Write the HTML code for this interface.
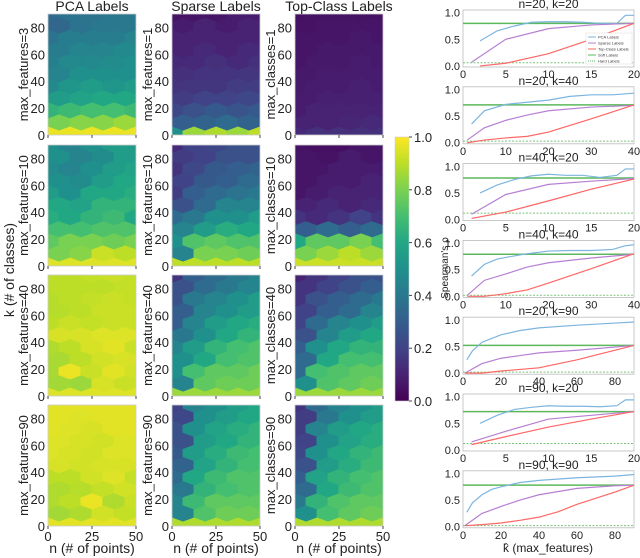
<!DOCTYPE html>
<html><head><meta charset="utf-8"><style>
body{margin:0;background:#fff;}
svg{display:block;font-family:"Liberation Sans","DejaVu Sans",sans-serif;}
</style></head><body>
<svg id="fig" width="640" height="558" viewBox="0 0 640 558"></svg>
<script>
// ---------- heatmap data (rows: y=90 down to y=0, 5 columns each) ----------
const colTitles = ["PCA Labels","Sparse Labels","Top-Class Labels"];
const rowLabels = [["max_features=3","max_features=1","max_classes=1"],
                   ["max_features=10","max_features=10","max_classes=10"],
                   ["max_features=40","max_features=40","max_classes=40"],
                   ["max_features=90","max_features=90","max_classes=90"]];
const hmPCA1 = [[.35,.38,.38,.4,.4],[.33,.38,.4,.4,.42],[.38,.42,.42,.42,.45],[.42,.45,.45,.47,.45],[.43,.47,.47,.48,.5],[.45,.5,.5,.5,.5],[.47,.52,.55,.52,.55],[.55,.58,.6,.6,.6],[.65,.68,.7,.7,.68],[.8,.82,.82,.85,.82],[.97,.97,.97,.97,.97]];
const hmSparse1 = [[.05,.06,.06,.08,.08],[.08,.1,.08,.1,.1],[.1,.1,.1,.1,.1],[.1,.12,.1,.12,.12],[.12,.12,.14,.12,.14],[.14,.15,.15,.16,.15],[.15,.16,.16,.18,.18],[.18,.2,.2,.22,.2],[.22,.25,.28,.26,.28],[.3,.32,.35,.32,.35],[.5,.85,.88,.85,.9]];
const hmTop1 = [[.04,.05,.05,.05,.05],[.05,.06,.06,.06,.06],[.06,.06,.06,.07,.06],[.06,.07,.07,.07,.07],[.06,.07,.07,.08,.07],[.07,.08,.08,.08,.08],[.07,.08,.08,.09,.08],[.08,.09,.09,.09,.1],[.08,.1,.1,.1,.1],[.1,.1,.11,.12,.1],[.12,.14,.14,.14,.14]];
const hmPCA2 = [[.5,.45,.5,.55,.55],[.5,.45,.48,.55,.58],[.48,.45,.5,.55,.58],[.5,.48,.55,.6,.6],[.55,.5,.6,.6,.62],[.6,.58,.65,.65,.62],[.62,.6,.65,.68,.6],[.7,.7,.72,.72,.68],[.75,.8,.8,.78,.8],[.8,.82,.92,.9,.92],[.95,.95,.95,.95,.95]];
const hmSparse2 = [[.12,.2,.22,.25,.25],[.18,.2,.25,.25,.3],[.15,.22,.28,.3,.32],[.2,.28,.3,.35,.35],[.18,.3,.35,.38,.4],[.25,.35,.45,.45,.48],[.35,.4,.5,.5,.55],[.45,.55,.62,.6,.65],[.5,.72,.75,.72,.72],[.45,.8,.8,.78,.8],[.9,.9,.9,.9,.9]];
const hmTop2 = [[.05,.04,.04,.06,.06],[.06,.05,.08,.06,.08],[.06,.06,.08,.08,.08],[.06,.08,.08,.1,.1],[.06,.08,.1,.1,.1],[.1,.12,.1,.12,.15],[.15,.12,.15,.2,.15],[.3,.35,.3,.35,.35],[.6,.75,.75,.8,.7],[.8,.85,.9,.85,.85],[.92,.92,.92,.92,.92]];
const hmPCA3 = [[.9,.9,.91,.92,.91],[.9,.9,.9,.91,.91],[.89,.9,.91,.92,.91],[.89,.9,.92,.92,.9],[.9,.92,.91,.92,.92],[.94,.94,.95,.95,.94],[.88,.9,.94,.96,.92],[.87,.9,.93,.94,.9],[.87,.97,.92,.96,.93],[.86,.85,.94,.92,.94],[.95,.95,.95,.95,.95]];
const hmSparse3 = [[.15,.3,.35,.4,.45],[.25,.35,.4,.45,.5],[.25,.4,.45,.5,.55],[.3,.45,.5,.55,.6],[.3,.45,.55,.6,.62],[.4,.5,.6,.65,.68],[.45,.55,.65,.7,.72],[.5,.6,.7,.72,.75],[.5,.7,.75,.75,.78],[.45,.75,.78,.78,.8],[.85,.85,.85,.85,.85]];
const hmTop3 = [[.1,.15,.2,.25,.25],[.15,.2,.25,.3,.3],[.15,.25,.3,.35,.4],[.2,.3,.35,.45,.45],[.2,.35,.45,.5,.55],[.25,.45,.55,.6,.6],[.3,.5,.6,.65,.65],[.35,.6,.7,.7,.7],[.35,.7,.72,.75,.75],[.5,.72,.75,.78,.78],[.85,.85,.85,.85,.85]];
const hmPCA4 = [[.96,.96,.96,.96,.96],[.96,.95,.96,.96,.96],[.96,.95,.94,.96,.96],[.95,.94,.93,.95,.96],[.95,.94,.93,.95,.95],[.94,.93,.94,.94,.95],[.9,.9,.93,.95,.91],[.88,.89,.91,.93,.9],[.88,.9,.97,.88,.92],[.86,.88,.93,.91,.93],[.96,.96,.96,.96,.96]];
const hmSparse4 = [[.2,.45,.5,.55,.6],[.22,.5,.55,.6,.65],[.25,.5,.58,.62,.65],[.25,.55,.6,.65,.68],[.28,.55,.62,.68,.7],[.32,.58,.65,.7,.72],[.35,.6,.68,.72,.72],[.4,.65,.7,.72,.75],[.45,.68,.75,.75,.75],[.45,.72,.78,.78,.78],[.88,.88,.88,.88,.88]];
const hmTop4 = [[.15,.35,.45,.5,.55],[.18,.4,.5,.55,.6],[.18,.45,.55,.6,.62],[.2,.5,.58,.62,.65],[.22,.5,.6,.65,.68],[.25,.55,.62,.68,.7],[.3,.58,.65,.7,.72],[.35,.6,.68,.72,.72],[.4,.65,.72,.75,.75],[.5,.7,.75,.78,.78],[.88,.88,.88,.88,.88]];
const heatmaps = [[hmPCA1,hmSparse1,hmTop1],[hmPCA2,hmSparse2,hmTop2],[hmPCA3,hmSparse3,hmTop3],[hmPCA4,hmSparse4,hmTop4]];
const hmYTicks = [0,20,40,60,80];
const hmXTicks = [0,25,50];
const cbTicks = [0.0,0.2,0.4,0.6,0.8,1.0];

// ---------- line chart data ----------
const panelTitles = ["n=20, k=20","n=20, k=40","n=40, k=20","n=40, k=40","n=20, k=90","n=90, k=20","n=90, k=90"];
const panelXMax = [20,40,20,40,90,20,90];
const pcaX = [[2,4,6,8,10,12,14,16,18,19,20],[2,5,10,15,20,25,30,35,40],[2,4,6,8,10,12,14,16,18,19,20],[2,5,8,10,15,20,25,30,35,38,40],[2,5,10,20,30,40,60,80,90],[2,4,6,8,10,12,14,16,18,19,20],[2,5,10,15,20,30,40,60,80,90]];
const pcaY = [[.47,.66,.75,.82,.83,.83,.82,.8,.8,.95,.95],[.35,.6,.72,.76,.8,.87,.9,.9,.93],[.5,.65,.75,.82,.85,.83,.83,.79,.83,.95,.95],[.38,.6,.7,.73,.8,.85,.86,.86,.88,.95,.97],[.25,.42,.58,.72,.8,.85,.9,.94,.96],[.5,.65,.76,.8,.83,.82,.82,.81,.83,.94,.94],[.27,.45,.6,.7,.75,.83,.87,.92,.95,.98]];
const sparseX = [[1,5,10,15,20],[1,5,10,15,20,30,40],[1,5,10,15,20],[1,5,10,15,20,30,40],[1,10,20,30,40,60,90],[1,5,10,15,20],[1,10,20,30,40,60,80,90]];
const sparseY = [[.07,.5,.7,.77,.8],[.05,.28,.42,.52,.6,.67,.7],[.1,.47,.66,.72,.77],[.02,.3,.42,.55,.63,.72,.79],[0,.18,.28,.33,.38,.43,.52],[.15,.35,.58,.65,.72],[.02,.25,.38,.5,.6,.72,.77,.78]];
const topX = [[2,5,10,15,20],[1,5,10,15,20,30,40],[1,5,10,15,20],[1,5,10,15,20,30,40],[1,10,20,40,60,90],[1,5,10,15,20],[1,10,20,30,40,50,60,80,90]];
const topY = [[0,.05,.23,.5,.8],[0,.05,.09,.12,.2,.45,.71],[.02,.14,.35,.57,.76],[0,0,.05,.12,.25,.52,.8],[0,0,.04,.1,.25,.52],[.1,.25,.43,.58,.72],[.02,.04,.07,.12,.18,.28,.42,.65,.78]];
const softY = [.8,.71,.78,.79,.52,.72,.78];
const hardY = [.06,.03,.12,.02,.02,.12,.02];
const lineYTicks = [0.0,0.5,1.0];
const xTicks20 = [0,5,10,15,20], xTicks40 = [0,10,20,30,40], xTicks90 = [0,20,40,60,80];

// ---------- helpers ----------
const NS = "http://www.w3.org/2000/svg";
const svg = document.getElementById("fig");
function mk(tag, attrs, parent){const e=document.createElementNS(NS,tag);for(const k in attrs)e.setAttribute(k,attrs[k]);(parent||svg).appendChild(e);return e;}
const VIR=[[68,1,84],[72,35,116],[64,67,135],[52,94,141],[41,120,142],[32,144,140],[34,167,132],[68,190,112],[121,209,81],[189,222,38],[253,231,37]];
function viridis(v){v=Math.max(0,Math.min(1,v));const f=v*10,i=Math.min(9,Math.floor(f)),t=f-i;const a=VIR[i],b=VIR[i+1];return `rgb(${a.map((c,j)=>Math.round(c+(b[j]-c)*t)).join(",")})`;}

// ---------- heatmaps ----------
const colX0=[48,172,295], hmW=88, rowTop=[14,145,275,405], hmH=121;
for(let r=0;r<4;r++){
  for(let c=0;c<3;c++){
    const x0=colX0[c], y0=rowTop[r];
    const sx=v=>x0+v/50*hmW, sy=v=>y0+hmH-v/90*hmH;
    const g=mk("g",{});
    
    
    const cid=`clip${r}${c}`;
    const cp=mk("clipPath",{id:cid},g);mk("rect",{x:x0,y:y0,width:hmW,height:hmH},cp);
    const hg=mk("g",{"clip-path":`url(#${cid})`},g);
    const data=heatmaps[r][c];
    const hw=12.5/50*hmW/2*1.02, hh=(9/90*hmH)/0.75/2*1.02;
    for(let j=0;j<data.length;j++){
      const yv=90-j*9, odd=(10-j)%2===1;
      for(let k=0;k<5;k++){
        const xv=k*12.5+(odd?6.25:0);
        if(xv>50.1)continue;
        const cx=sx(xv), cy=sy(yv);
        const pts=[[cx,cy-hh],[cx+hw,cy-hh/2],[cx+hw,cy+hh/2],[cx,cy+hh],[cx-hw,cy+hh/2],[cx-hw,cy-hh/2]];
        const p=mk("polygon",{points:pts.map(p=>p.join(",")).join(" "),fill:viridis(data[j][k]),stroke:viridis(data[j][k]),"stroke-width":0.5},hg);
        
        
      }
    }
    mk("rect",{x:x0,y:y0,width:hmW,height:hmH,fill:"none",stroke:"#ccc","stroke-width":0.8},g);
    for(const t of hmYTicks){
      const tt=mk("text",{x:x0-3,y:sy(t)+5,"text-anchor":"end","font-size":13,fill:"#222"},g);tt.textContent=t;
      
      
    }
    for(const t of hmXTicks) mk("line",{x1:sx(t),x2:sx(t),y1:y0+hmH,y2:y0+hmH+3,stroke:"#444"},g);
    if(r===3){
      for(const t of hmXTicks){
        const tt=mk("text",{x:sx(t),y:y0+hmH+15,"text-anchor":"middle","font-size":13,fill:"#222"},g);tt.textContent=t;
        
        
      }
      const xl=mk("text",{x:x0+hmW/2,y:553,"text-anchor":"middle","font-size":14,fill:"#222"},g);xl.textContent="n (# of points)";
      
      
    }
    const rl=mk("text",{transform:`translate(${x0-20},${y0+hmH/2}) rotate(-90)`,"text-anchor":"middle","font-size":13,fill:"#222"},g);
    rl.textContent=rowLabels[r][c];
    
    
    if(r===0){
      const ct=mk("text",{x:x0+hmW/2,y:11,"text-anchor":"middle","font-size":14,fill:"#222"},g);ct.textContent=colTitles[c];
      
      
    }
  }
}
const kl=mk("text",{transform:"translate(14,270) rotate(-90)","text-anchor":"middle","font-size":14,fill:"#222"});
kl.textContent="k (# of classes)";



// ---------- colorbar ----------
const cb=mk("g",{});


const cbX=395,cbTop=137,cbBot=401;
const grad=mk("linearGradient",{id:"vg",x1:0,y1:1,x2:0,y2:0},mk("defs",{},cb));
for(let i=0;i<=10;i++) mk("stop",{offset:i/10,"stop-color":viridis(i/10)},grad);
mk("rect",{x:cbX,y:cbTop,width:14,height:cbBot-cbTop,fill:"url(#vg)",stroke:"#ccc","stroke-width":0.6},cb);
for(const t of cbTicks){
  const y=cbBot-t*(cbBot-cbTop);
  mk("line",{x1:cbX+14,x2:cbX+17,y1:y,y2:y,stroke:"#444"},cb);
  const tt=mk("text",{x:cbX+19,y:y+5,"font-size":13,fill:"#222"},cb);tt.textContent=t.toFixed(1);
  
  
}

// ---------- line panels ----------
const LX0=463,LX1=634,LH=57;
const colPCA="#7cb5df",colSp="#b77fd3",colTop="#ff6666",colSoft="#5cb85c";
for(let i=0;i<7;i++){
  const top=10+i*76.8, xmax=panelXMax[i];
  const sx=v=>LX0+v/xmax*(LX1-LX0), sy=v=>top+(1.05-v)/1.07*LH;
  const g=mk("g",{});
  
  
  mk("rect",{x:LX0,y:top,width:LX1-LX0,height:LH,fill:"#fff",stroke:"#bbb","stroke-width":0.8},g);
  const tt=mk("text",{x:(LX0+LX1)/2,y:top-2,"text-anchor":"middle","font-size":12,fill:"#222"},g);tt.textContent=panelTitles[i];
  
  
  for(const t of lineYTicks){
    const yl=mk("text",{x:LX0-3,y:sy(t)+4,"text-anchor":"end","font-size":11,fill:"#222"},g);yl.textContent=t.toFixed(1);
    
    
  }
  const xt=xmax===20?xTicks20:xmax===40?xTicks40:xTicks90;
  for(const t of xt){
    const xl=mk("text",{x:sx(t),y:top+LH+11,"text-anchor":"middle","font-size":11,fill:"#222"},g);xl.textContent=t;
    
    
  }
  const s=mk("line",{x1:LX0,x2:LX1,y1:sy(softY[i]),y2:sy(softY[i]),stroke:colSoft,"stroke-width":1.5},g);
  
  
  const h=mk("line",{x1:LX0,x2:LX1,y1:sy(hardY[i]),y2:sy(hardY[i]),stroke:"#7cc47c","stroke-width":1,"stroke-dasharray":"2,1.5"},g);
  
  
  const series=[[pcaX[i],pcaY[i],colPCA,'pca-labels-line'],[sparseX[i],sparseY[i],colSp,'sparse-labels-line'],[topX[i],topY[i],colTop,'top-class-labels-line']];
  for(const [xs,ys,col,name] of series){
    const p=mk("polyline",{points:xs.map((x,k)=>sx(x)+","+sy(ys[k])).join(" "),fill:"none",stroke:col,"stroke-width":1.2},g);
    
    
  }
  if(i===0){
    const lg=mk("g",{},g);
    
    
    mk("rect",{x:586,y:33,width:46,height:31,fill:"#fff",stroke:"#ddd","stroke-width":0.5},lg);
    const items=[["PCA Labels",colPCA,""],["Sparse Labels",colSp,""],["Top-Class Labels",colTop,""],["Soft Labels",colSoft,""],["Hard Labels",colSoft,"1,1"]];
    items.forEach((it,k)=>{
      const y=37+k*6;
      mk("line",{x1:588,x2:596,y1:y,y2:y,stroke:it[1],"stroke-width":1,"stroke-dasharray":it[2]||"none"},lg);
      const lt=mk("text",{x:598,y:y+1.5,"font-size":4,fill:"#333"},lg);lt.textContent=it[0];
      
      
    });
  }
}
const rho=mk("text",{transform:"translate(448,268) rotate(-90)","text-anchor":"middle","font-size":10,fill:"#222"});
rho.textContent="Spearman's ρ";


const kx=mk("text",{x:548,y:552,"text-anchor":"middle","font-size":12,fill:"#222"});
kx.textContent="k̂ (max_features)";


</script>
</body></html>
